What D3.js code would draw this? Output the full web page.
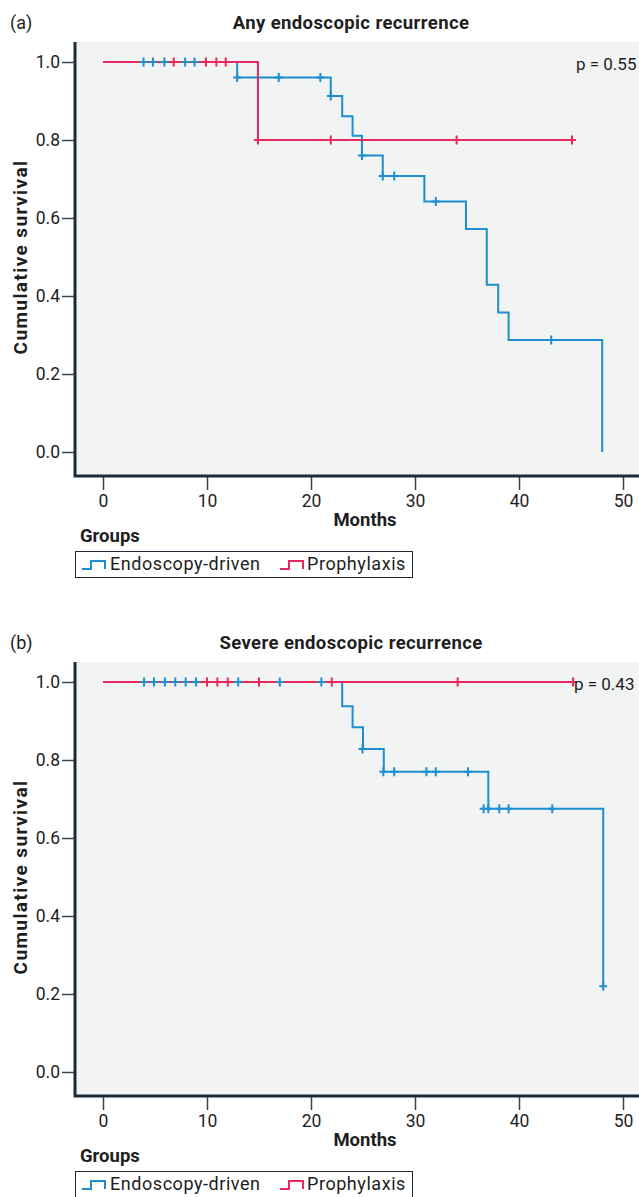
<!DOCTYPE html>
<html><head><meta charset="utf-8">
<script src="https://cdn.jsdelivr.net/npm/d3@7"></script>
<style>
html,body{margin:0;padding:0;background:#fff;}
svg{display:block;font-family:Roboto,"Noto Sans",sans-serif;}
</style></head>
<body><svg id="chart" width="639" height="1197"></svg>
<script>
// ---- data ----
const xTicks = [0, 10, 20, 30, 40, 50];
const yTicks = [0, 0.2, 0.4, 0.6, 0.8, 1.0];
const groups = ["Endoscopy-driven", "Prophylaxis"];

// Panel (a): Any endoscopic recurrence
const aTitle = "Any endoscopic recurrence";
const aLabel = "(a)";
const aP = "p = 0.55";
const aBlueTimes = [0, 12.9, 21.9, 23, 24, 24.9, 26.9, 30.9, 34.9, 36.9, 38, 39, 48];
const aBlueSurv  = [1, 0.96, 0.913, 0.861, 0.811, 0.760, 0.708, 0.642, 0.572, 0.429, 0.358, 0.287, 0];
const aBlueEnd = 48;
const aBlueCensor = [3.9, 4.8, 5.9, 7.9, 8.8, 12.9, 16.9, 20.9, 21.9, 24.9, 26.9, 28, 32, 43.1];
const aRedTimes = [0, 14.9];
const aRedSurv  = [1, 0.8];
const aRedEnd = 45.1;
const aRedCensor = [6.8, 9.9, 10.9, 11.8, 14.9, 21.9, 34, 45.1];

// Panel (b): Severe endoscopic recurrence
const bTitle = "Severe endoscopic recurrence";
const bLabel = "(b)";
const bP = "p = 0.43";
const bBlueTimes = [0, 23, 24, 25, 27, 37.05, 48.1];
const bBlueSurv  = [1, 0.938, 0.884, 0.828, 0.770, 0.675, 0.22];
const bBlueEnd = 48.1;
const bBlueCensor = [3.95, 4.9, 5.95, 6.95, 7.95, 8.95, 13, 17, 21, 24.95, 26.95, 28, 31.1, 32, 35.1, 36.6, 37.05, 38.1, 39, 43.2, 48.1];
const bRedTimes = [0];
const bRedSurv  = [1];
const bRedEnd = 45.2;
const bRedCensor = [10, 11, 12, 15, 22, 34.1, 45.2];

// ---- drawing ----
const BLUE = "#1d8fd0", RED = "#e8285e", INK = "#1e1e1e";
const svg = d3.select("#chart");
const x = d3.scaleLinear().domain([0, 50]).range([103, 623]);

function survAt(times, surv, t) {
  // censor marks coinciding (within half a month) with an event are drawn at the post-event level
  let s = surv[0];
  for (let i = 0; i < times.length; i++) if (times[i] <= t + 0.5) s = surv[i];
  return s;
}
function stepPath(times, surv, end, y) {
  const pts = [];
  for (let i = 0; i < times.length; i++) {
    if (i > 0) pts.push([x(times[i]), y(surv[i - 1])]);
    pts.push([x(times[i]), y(surv[i])]);
  }
  pts.push([x(end), y(surv[surv.length - 1])]);
  return d3.line()(pts);
}

function panel(off, cfg) {
  const g = svg.append("g").attr("transform", `translate(0,${off})`);
  const y = d3.scaleLinear().domain([0, 1]).range([452, 62]);
  const left = 75, top = 42, bottom = 476, right = 660;
  g.append("rect").attr("x", left).attr("y", top).attr("width", right - left).attr("height", bottom - top).attr("fill", "#f2f3f3");

  g.append("text").attr("x", 10).attr("y", 29).attr("font-size", 18).attr("fill", INK).text(cfg.label);
  g.append("text").attr("x", 351).attr("y", 29).attr("text-anchor", "middle").attr("font-size", 18.5).attr("letter-spacing", 0.4).attr("font-weight", "bold").attr("fill", INK).text(cfg.title);

  // y axis
  const ya = g.append("g").attr("transform", `translate(${left},0)`).call(d3.axisLeft(y).tickValues(yTicks).tickFormat(d3.format(".1f")).tickSize(13).tickPadding(2));
  ya.select(".domain").remove();
  ya.selectAll(".tick line").attr("stroke", "#3a4550").attr("stroke-width", 1.5);
  ya.selectAll(".tick text").attr("font-size", 17.5).attr("fill", INK).attr("font-family", "Roboto,sans-serif");
  // x axis
  const xa = g.append("g").attr("transform", `translate(0,${bottom})`).call(d3.axisBottom(x).tickValues(xTicks).tickSize(14).tickPadding(5));
  xa.select(".domain").remove();
  xa.selectAll(".tick line").attr("stroke", "#3a4550").attr("stroke-width", 1.5);
  xa.selectAll(".tick text").attr("font-size", 17.5).attr("fill", INK).attr("font-family", "Roboto,sans-serif");
  g.append("path").attr("d", `M${left},${top}V${bottom}H${right}`).attr("fill", "none").attr("stroke", "#1b2a36").attr("stroke-width", 3);

  g.append("text").attr("transform", `translate(27,${(y(0) + y(1)) / 2}) rotate(-90)`).attr("text-anchor", "middle").attr("font-size", 19).attr("letter-spacing", 1.4).attr("font-weight", "bold").attr("fill", INK).text("Cumulative survival");
  g.append("text").attr("x", 365).attr("y", 526).attr("text-anchor", "middle").attr("font-size", 18.5).attr("font-weight", "bold").attr("fill", INK).text("Months");

  // curves
  g.append("path").attr("d", stepPath(cfg.bt, cfg.bs, cfg.be, y)).attr("fill", "none").attr("stroke", BLUE).attr("stroke-width", 2);
  g.append("path").attr("d", stepPath(cfg.rt, cfg.rs, cfg.re, y)).attr("fill", "none").attr("stroke", RED).attr("stroke-width", 2);
  function crosses(ts, times, surv, col) {
    g.append("g").selectAll("path").data(ts).join("path")
      .attr("d", t => { const cx = x(t), cy = y(survAt(times, surv, t)); return `M${cx - 4},${cy}H${cx + 4}M${cx},${cy - 4.5}V${cy + 4.5}`; })
      .attr("stroke", col).attr("stroke-width", 2).attr("fill", "none");
  }
  crosses(cfg.bc, cfg.bt, cfg.bs, BLUE);
  crosses(cfg.rc, cfg.rt, cfg.rs, RED);

  g.append("text").attr("x", cfg.px).attr("y", 70).attr("font-size", 17).attr("fill", INK).text(cfg.p);

  // legend
  g.append("text").attr("x", 80).attr("y", 542).attr("font-size", 18.5).attr("font-weight", "bold").attr("fill", INK).text("Groups");
  g.append("rect").attr("x", 75.5).attr("y", 551.5).attr("width", 337).attr("height", 26).attr("fill", "#fff").attr("stroke", "#1b2a36").attr("stroke-width", 1);
  const items = [{ c: BLUE, ix: 82, tx: 110 }, { c: RED, ix: 280, tx: 307 }];
  items.forEach((it, i) => {
    g.append("path").attr("d", `M${it.ix},569H${it.ix + 9}V561H${it.ix + 23}V569`).attr("fill", "none").attr("stroke", it.c).attr("stroke-width", 2);
    g.append("text").attr("x", it.tx).attr("y", 570).attr("font-size", 18).attr("letter-spacing", 0.55).attr("fill", INK).text(groups[i]);
  });
}

panel(0, { label: aLabel, title: aTitle, p: aP, px: 576, bt: aBlueTimes, bs: aBlueSurv, be: aBlueEnd, bc: aBlueCensor, rt: aRedTimes, rs: aRedSurv, re: aRedEnd, rc: aRedCensor });
panel(620, { label: bLabel, title: bTitle, p: bP, px: 574, bt: bBlueTimes, bs: bBlueSurv, be: bBlueEnd, bc: bBlueCensor, rt: bRedTimes, rs: bRedSurv, re: bRedEnd, rc: bRedCensor });
</script></body></html>
